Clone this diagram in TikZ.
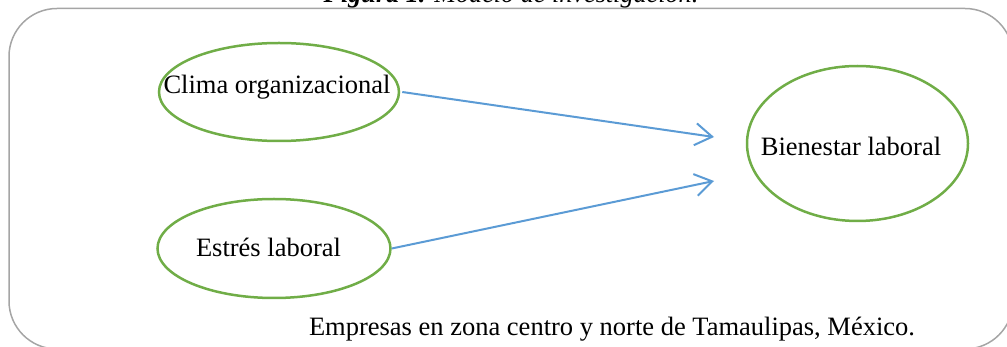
\documentclass[tikz,border=0pt]{standalone}
\usepackage{fontspec}
\setmainfont{Liberation Serif}
\usetikzlibrary{shapes.geometric,arrows.meta}
\definecolor{ovalgreen}{RGB}{112,173,71}
\definecolor{arrowblue}{RGB}{91,155,213}
\definecolor{framegrey}{RGB}{165,165,165}
\tikzset{
  oval/.style={ellipse, draw=ovalgreen, line width=2.5pt, inner sep=0pt, text depth=0pt,
    font=\fontsize{26.5pt}{30pt}\selectfont},
  link/.style={draw=arrowblue, line width=2pt, -{Straight Barb[length=17pt,width=22pt,line width=2pt]}},
  caption/.style={inner sep=0pt, anchor=base}
}
\begin{document}
\begin{tikzpicture}[x=1pt,y=-1pt]
\useasboundingbox (0,0) rectangle (1007,347);
\begin{scope}
\clip (0,0) rectangle (1007,347);
\draw[framegrey, line width=1.5pt, rounded corners=48pt] (9,8.5) rectangle (1013,349);
\end{scope}
\node[caption, font=\fontsize{26.2pt}{30pt}\selectfont] (title) at (511,2.5) {\textbf{\textit{Figura 1.}} \textit{Modelo de investigación.}};
\node[oval, minimum width=240pt, minimum height=98pt, text height=4pt] (clima) at (279,92) {\makebox[0pt]{\hspace{-4pt}Clima organizacional}};
\node[oval, minimum width=233pt, minimum height=99pt, text height=17pt] (estres) at (274,248.5) {\makebox[0pt]{Estrés laboral\hspace{11pt}}};
\node[oval, minimum width=221pt, minimum height=155pt, text height=24pt] (bien) at (857.5,143.5) {\makebox[0pt]{Bienestar laboral\hspace{13pt}}};
\coordinate (tip1) at (714,137);
\coordinate (tip2) at (714,181);
\draw[link] ([xshift=2pt]clima.east) -- (tip1);
\draw[link] (estres.east) -- (tip2);
\node[caption, font=\fontsize{26.5pt}{30pt}\selectfont] (foot) at (612,336) {Empresas en zona centro y norte de Tamaulipas, México.};
\end{tikzpicture}
\end{document}
